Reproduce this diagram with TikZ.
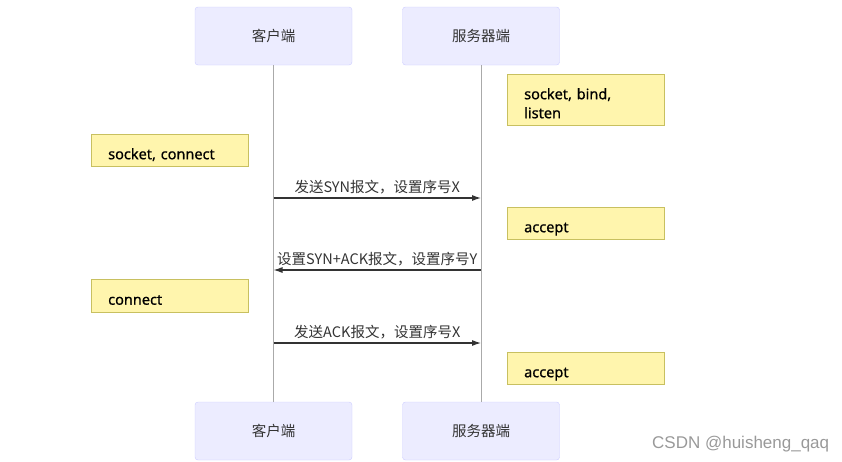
\documentclass[tikz,border=0pt]{standalone}
\usepackage{fontspec}
\setmainfont{Noto Sans}
\newfontfamily\cjk{Noto Sans CJK SC}
\newfontfamily\notefont[FakeBold=0.7]{Noto Sans}
\setsansfont{Liberation Sans}
\usetikzlibrary{arrows.meta, positioning}
\definecolor{actorfill}{HTML}{ECECFF}
\definecolor{actorline}{HTML}{CCCCFF}
\definecolor{notefill}{HTML}{FFF5AD}
\definecolor{noteline}{HTML}{C8C060}
\definecolor{msgcol}{HTML}{333333}
\definecolor{lifecol}{HTML}{AAAAAA}
\begin{document}
\begin{tikzpicture}[
    x=1pt, y=-1pt,
    every node/.style={font=\fontsize{14.5}{19}\selectfont},
    actor/.style={rectangle, draw=actorline, fill=actorfill, rounded corners=3pt, minimum width=157pt, minimum height=58pt, font=\cjk\fontsize{14.5}{19}\selectfont, text=msgcol},
    note/.style={rectangle, draw=noteline, fill=notefill, anchor=north west, minimum width=157pt, inner xsep=17pt, inner ysep=0pt, text width=123pt, align=left, text height=25pt, text depth=7pt, font=\notefont\fontsize{14.5}{19}\selectfont},
    lifeline/.style={draw=lifecol, line width=0.8pt},
    msg/.style={draw=msgcol, line width=1.1pt, -{Latex[length=9pt,width=6pt]}},
    msglabel/.style={anchor=base, yshift=5.5pt, inner sep=0pt, font=\cjk\fontsize{14.5}{19}\selectfont, text=msgcol}
  ]
  \useasboundingbox (0,0) rectangle (842,461);

  % Actors, top and bottom
  \node[actor] (clientTop) at (273.5,36) {客户端};
  \node[actor] (serverTop) at (481,36) {服务器端};
  \node[actor] (clientBot) at (273.5,431) {客户端};
  \node[actor] (serverBot) at (481,431) {服务器端};

  % Lifelines
  \draw[lifeline] (clientTop) -- (clientBot);
  \draw[lifeline] (serverTop) -- (serverBot);

  % Notes
  \node[note, text depth=26pt] (srvListen) at (507,74) {socket, bind,\\listen};
  \node[note] (cliConnect) at (91,134) {socket, connect};
  \node[note] (srvAccept) at (507,207) {accept};
  \node[note, minimum height=33pt] (cliConnect2) at (91,279) {connect};
  \node[note] (srvAccept2) at (507,352) {accept};

  % Message end points
  \coordinate (synC) at (clientTop |- 0,198);
  \coordinate (synS) at (serverTop |- 0,198);
  \coordinate (synackC) at (clientTop |- 0,270);
  \coordinate (synackS) at (serverTop |- 0,270);
  \coordinate (ackC) at (clientTop |- 0,343);
  \coordinate (ackS) at (serverTop |- 0,343);

  % Messages
  \draw[msg] (synC) -- node[msglabel] {发送SYN报文，设置序号X} (synS);
  \draw[msg] (synackS) -- node[msglabel] {设置SYN+ACK报文，设置序号Y} (synackC);
  \draw[msg] (ackC) -- node[msglabel] {发送ACK报文，设置序号X} (ackS);

  % Watermark
  \node[anchor=base west, inner sep=0pt, font=\sffamily\fontsize{17}{20}\selectfont, text=black!40] (mark) at (652,448) {CSDN @huisheng\_qaq};
\end{tikzpicture}
\end{document}
